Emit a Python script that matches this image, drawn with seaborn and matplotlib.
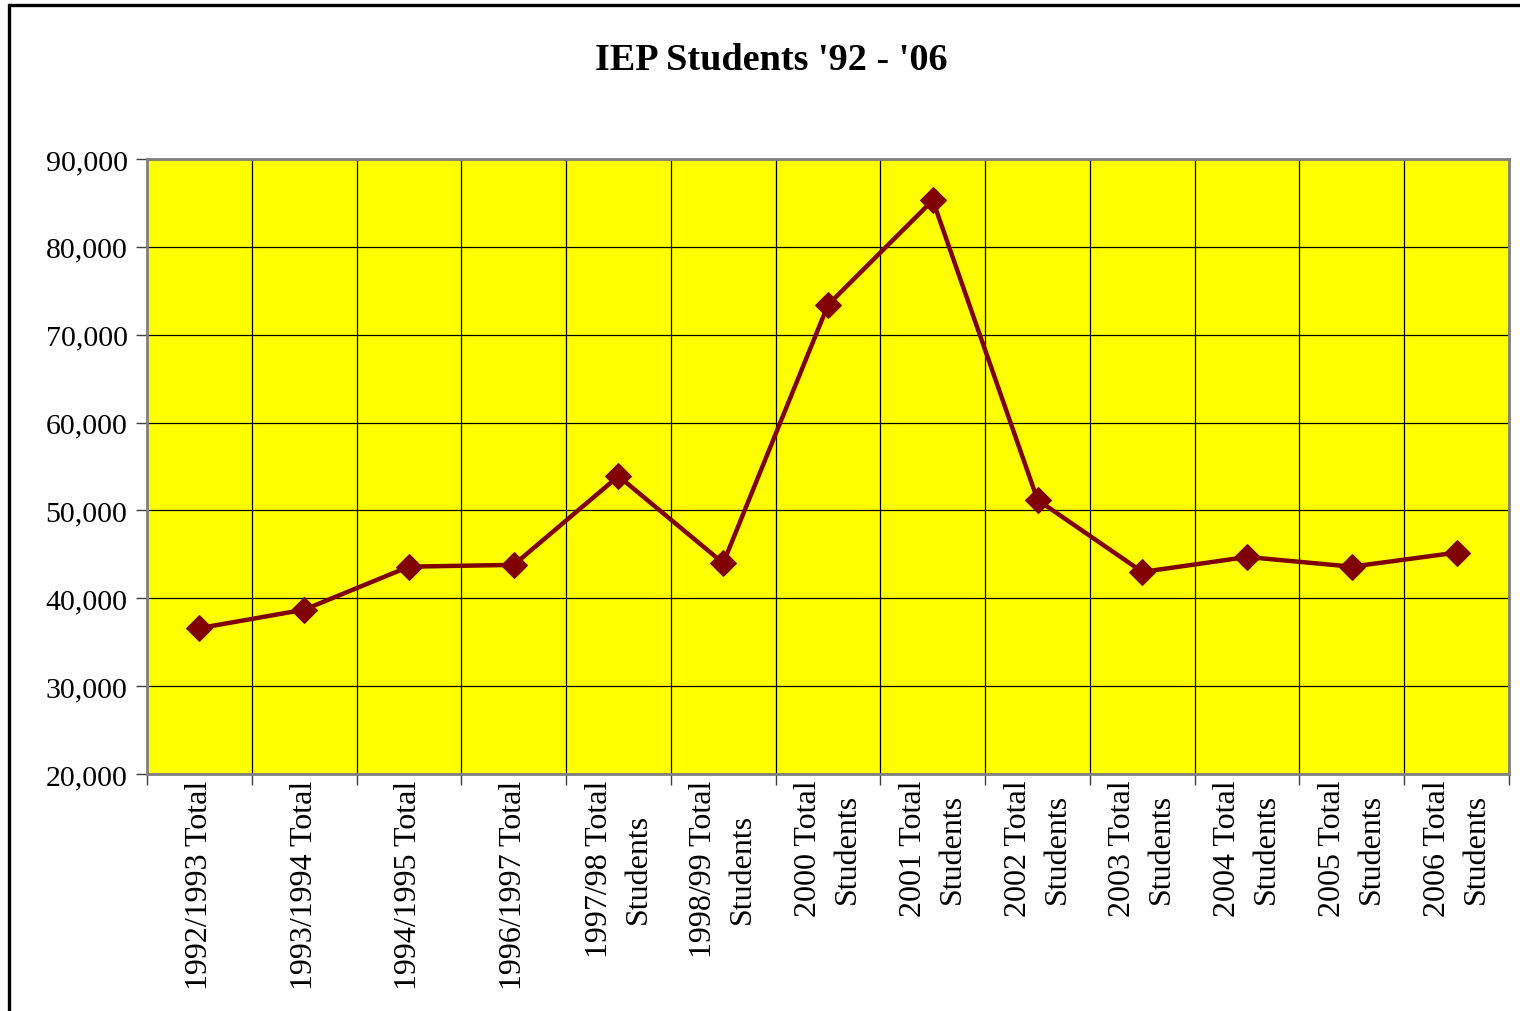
import seaborn as sns
import matplotlib.pyplot as plt
import numpy as np
import pandas as pd
from matplotlib.patches import Rectangle
from matplotlib.ticker import FuncFormatter, FixedLocator

# Data
categories = [
    "1992/1993 Total", "1993/1994 Total", "1994/1995 Total", "1996/1997 Total",
    "1997/98 Total\nStudents", "1998/99 Total\nStudents", "2000 Total\nStudents",
    "2001 Total\nStudents", "2002 Total\nStudents", "2003 Total\nStudents",
    "2004 Total\nStudents", "2005 Total\nStudents", "2006 Total\nStudents",
]
students = [36600, 38700, 43600, 43800, 53900, 44000, 73400,
            85300, 51200, 43000, 44700, 43600, 45200]
y_ticks = [20000, 30000, 40000, 50000, 60000, 70000, 80000, 90000]

df = pd.DataFrame({"pos": np.arange(len(categories)), "students": students})

sns.set_style("white")
plt.rcParams["font.family"] = ["Liberation Serif", "DejaVu Serif"]
plt.rcParams["text.color"] = "black"
plt.rcParams["xtick.labelcolor"] = "black"
plt.rcParams["ytick.labelcolor"] = "black"

fig = plt.figure(figsize=(15.2, 10.12), dpi=100)
ax = fig.add_axes([147 / 1520, 1 - 775 / 1012, (1509 - 147) / 1520, (775 - 160) / 1012])
ax.set_facecolor("#FFFF00")

sns.lineplot(data=df, x="pos", y="students", ax=ax, color="#800000",
             linewidth=3.2, marker="D", markersize=13,
             markeredgecolor="#800000", markerfacecolor="#800000", zorder=5)

# Axis ranges and ticks
ax.set_xlim(-0.5, len(categories) - 0.5)
ax.set_ylim(y_ticks[0], y_ticks[-1])
ax.set_yticks(y_ticks)
ax.yaxis.set_major_formatter(FuncFormatter(lambda v, p: f"{int(v):,}"))

ax.set_xticks(df["pos"])
ax.set_xticklabels(categories, rotation=90, ha="center", va="top",
                   multialignment="center", linespacing=1.45)
ax.xaxis.set_minor_locator(FixedLocator(np.arange(-0.5, len(categories), 1.0)))
ax.tick_params(axis="x", which="major", length=0, pad=4, labelsize=23)
ax.tick_params(axis="x", which="minor", length=8, width=1, color="#404040",
               direction="out", bottom=True)
ax.tick_params(axis="y", which="major", length=8, width=1, color="#404040",
               direction="out", left=True, pad=6, labelsize=21.5)

# Gridlines
ax.grid(False)
ax.grid(axis="x", which="minor", color="black", linewidth=0.9)
ax.grid(axis="y", which="major", color="black", linewidth=0.9)
ax.set_axisbelow(True)

for s in ax.spines.values():
    s.set_visible(True)
    s.set_color("#808080")
    s.set_linewidth(2)

ax.set_xlabel("")
ax.set_ylabel("")

# Title
fig.text(771 / 1520, 1 - 60 / 1012, "IEP Students '92 - '06", ha="center",
         va="center", fontsize=27.5, fontweight="bold")

# Chart-area border (cut off at right and bottom as in the reference)
fig.patches.append(Rectangle((9 / 1520, -0.05), 1.2, 1 - 6 / 1012 + 0.05,
                             transform=fig.transFigure, fill=False,
                             edgecolor="black", linewidth=2.4))

plt.savefig("out.png", dpi=100)
